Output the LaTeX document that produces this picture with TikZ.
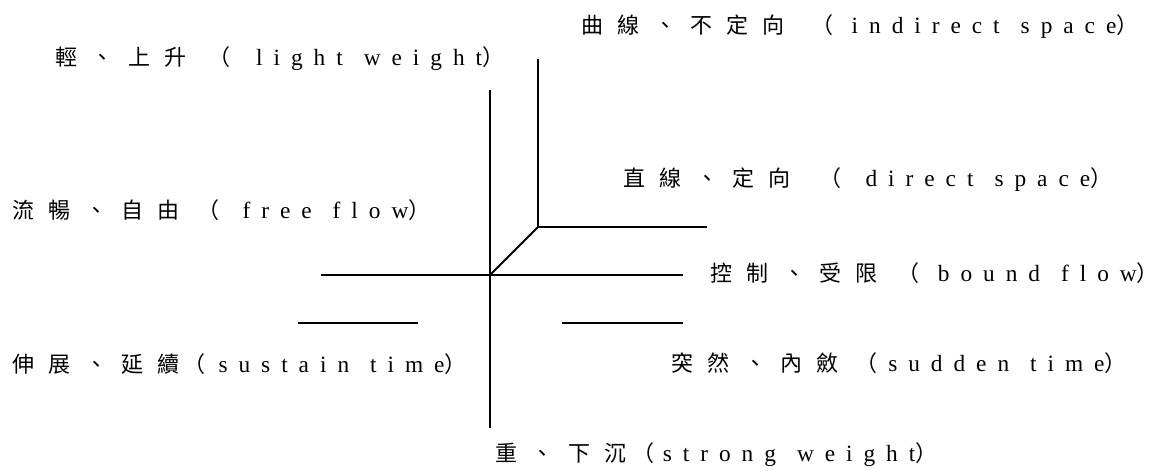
\documentclass[tikz,border=0pt]{standalone}
\usepackage{fontspec}
\newfontfamily\cjkfont[LetterSpace=64]{Noto Sans CJK TC}
\newfontfamily\latfont[LetterSpace=47,WordSpace=1.25]{Liberation Serif}
% gap before and after the opening bracket, Chinese words, English words
\newcommand{\effort}[4]{{\fontsize{16.5}{20}\cjkfont #3\hspace{#1}（}\hspace{#2}{\fontsize{17.5}{20}\latfont #4}{\fontsize{16.5}{20}\cjkfont ）}}
\begin{document}
\begin{tikzpicture}[x=0.75pt,y=-0.75pt,line join=round,line cap=butt,line width=1.4pt,
  lab/.style={anchor=west,inner sep=0pt}]
			\useasboundingbox (0,0) rectangle (1157,471);
			\coordinate (O) at (490,275);
			\coordinate (S) at (538,227);
			\draw (490,90) coordinate (wtop) -- (490,428) coordinate (wbot);
			\draw (321,275) coordinate (fl) -- (683,275) coordinate (fr);
			\draw (538,59) coordinate (stop) -- (S) -- (707,227) coordinate (sr);
			\draw (O) -- (S);
			\draw (298,323) coordinate (tl1) -- (418,323) coordinate (tl2);
			\draw (562,323) coordinate (tr1) -- (683,323) coordinate (tr2);
			\foreach \n/\p/\a/\b/\c/\e in {light/{55,59}/17pt/19pt/輕、上升/light weight,indirect/{581,27}/20pt/14pt/曲線、不定向/indirect space,
				direct/{623,180}/22pt/18pt/直線、定向/direct space,free/{12,210}/14pt/17pt/流暢、自由/free flow,
				bound/{710,273}/15pt/14pt/控制、受限/bound flow,sustain/{12,364}/3pt/10pt/伸展、延續/sustain time,
				sudden/{671,363}/13pt/8pt/突然、內斂/sudden time,strong/{495,455}/5pt/6pt/重、下沉/strong weight}
			\node[lab] (\n) at (\p) {\effort{\a}{\b}{\c}{\e}};
		\end{tikzpicture}
\end{document}
